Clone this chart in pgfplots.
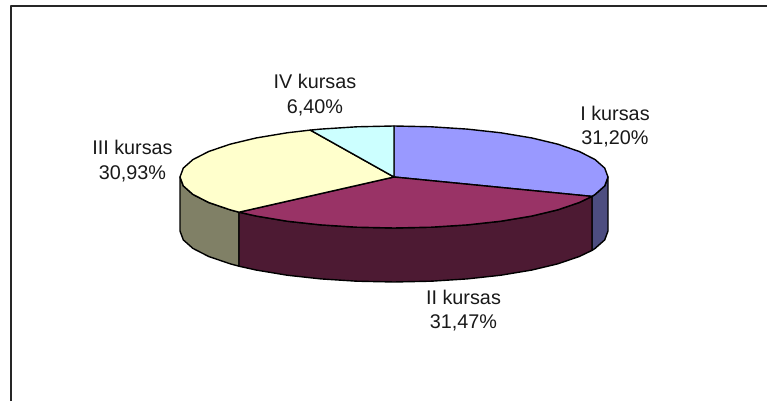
\documentclass[border=0pt]{standalone}
\usepackage{pgfplots}
\pgfplotsset{compat=1.18}
\usepackage{fontspec}
\setmainfont{Liberation Sans}
\definecolor{cI}{HTML}{9999FF}
\definecolor{cII}{HTML}{993366}
\definecolor{cIII}{HTML}{FFFFCC}
\definecolor{cIV}{HTML}{CCFFFF}
\definecolor{dI}{HTML}{4D4D80}
\definecolor{dII}{HTML}{4D1A33}
\definecolor{dIII}{HTML}{808066}
\tikzset{lab/.style={align=center, font=\fontsize{19.8}{24.5}\selectfont, text=black!90, inner sep=0pt}}
\begin{document}
\begin{tikzpicture}
\begin{axis}[
  hide axis, scale only axis, width=767pt, height=401pt,
  xmin=-394, xmax=373, ymin=-224, ymax=177,
  clip=true,
  every axis plot/.append style={no markers, line join=round}
]
% page extent (invisible)
\addplot[draw=none] coordinates {(-394,-224) (373,177)};
% frame
\addplot[black!85, line width=2pt] coordinates {(-383.5,-224) (-383.5,171) (373,171)};
% sides
\addplot[fill=dI, draw=black, line width=1.4pt] coordinates {(214,0) (210.7,-8.9) (201.1,-17.4) (198,-19.4) (198,-73.4) (201.1,-71.4) (210.7,-62.9) (214,-54)} -- cycle;
\addplot[fill=dIII, draw=black, line width=1.4pt] coordinates {(-155,-35.2) (-163.9,-32.8) (-185.3,-25.5) (-201.1,-17.4) (-210.7,-8.9) (-214,0) (-214,-54) (-210.7,-62.9) (-201.1,-71.4) (-185.3,-79.5) (-163.9,-86.8) (-155,-89.2)} -- cycle;
\addplot[fill=dII, draw=black, line width=1.4pt] coordinates {(198,-19.4) (185.3,-25.5) (163.9,-32.8) (137.6,-39.1) (107,-44.2) (73.2,-47.9) (37.2,-50.2) (0,-51) (-37.2,-50.2) (-73.2,-47.9) (-107,-44.2) (-137.6,-39.1) (-155,-35.2) (-155,-89.2) (-137.6,-93.1) (-107,-98.2) (-73.2,-101.9) (-37.2,-104.2) (0,-105) (37.2,-104.2) (73.2,-101.9) (107,-98.2) (137.6,-93.1) (163.9,-86.8) (185.3,-79.5) (198,-73.4)} -- cycle;
% top
\addplot[fill=cI, draw=black, line width=1.4pt] coordinates {(0,0) (0,51) (37.2,50.2) (73.2,47.9) (107,44.2) (137.6,39.1) (163.9,32.8) (185.3,25.5) (201.1,17.4) (210.7,8.9) (214,0) (210.7,-8.9) (201.1,-17.4) (198,-19.4)} -- cycle;
\addplot[fill=cII, draw=black, line width=1.4pt] coordinates {(0,0) (198,-19.4) (185.3,-25.5) (163.9,-32.8) (137.6,-39.1) (107,-44.2) (73.2,-47.9) (37.2,-50.2) (0,-51) (-37.2,-50.2) (-73.2,-47.9) (-107,-44.2) (-137.6,-39.1) (-155,-35.2)} -- cycle;
\addplot[fill=cIII, draw=black, line width=1.4pt] coordinates {(0,0) (-155,-35.2) (-163.9,-32.8) (-185.3,-25.5) (-201.1,-17.4) (-210.7,-8.9) (-214,0) (-210.7,8.9) (-201.1,17.4) (-185.3,25.5) (-163.9,32.8) (-137.6,39.1) (-107,44.2) (-83.7,46.9)} -- cycle;
\addplot[fill=cIV, draw=black, line width=1.4pt] coordinates {(0,0) (-83.7,46.9) (-73.2,47.9) (-37.2,50.2) (0,51)} -- cycle;
% labels
\node[lab] at (axis cs:221,50.5) {I kursas\\31,20\%};
\node[lab] at (axis cs:69.5,-133.5) {II kursas\\31,47\%};
\node[lab] at (axis cs:-261.5,16) {III kursas\\30,93\%};
\node[lab] at (axis cs:-79,82) {IV kursas\\6,40\%};
\end{axis}
\end{tikzpicture}
\end{document}
